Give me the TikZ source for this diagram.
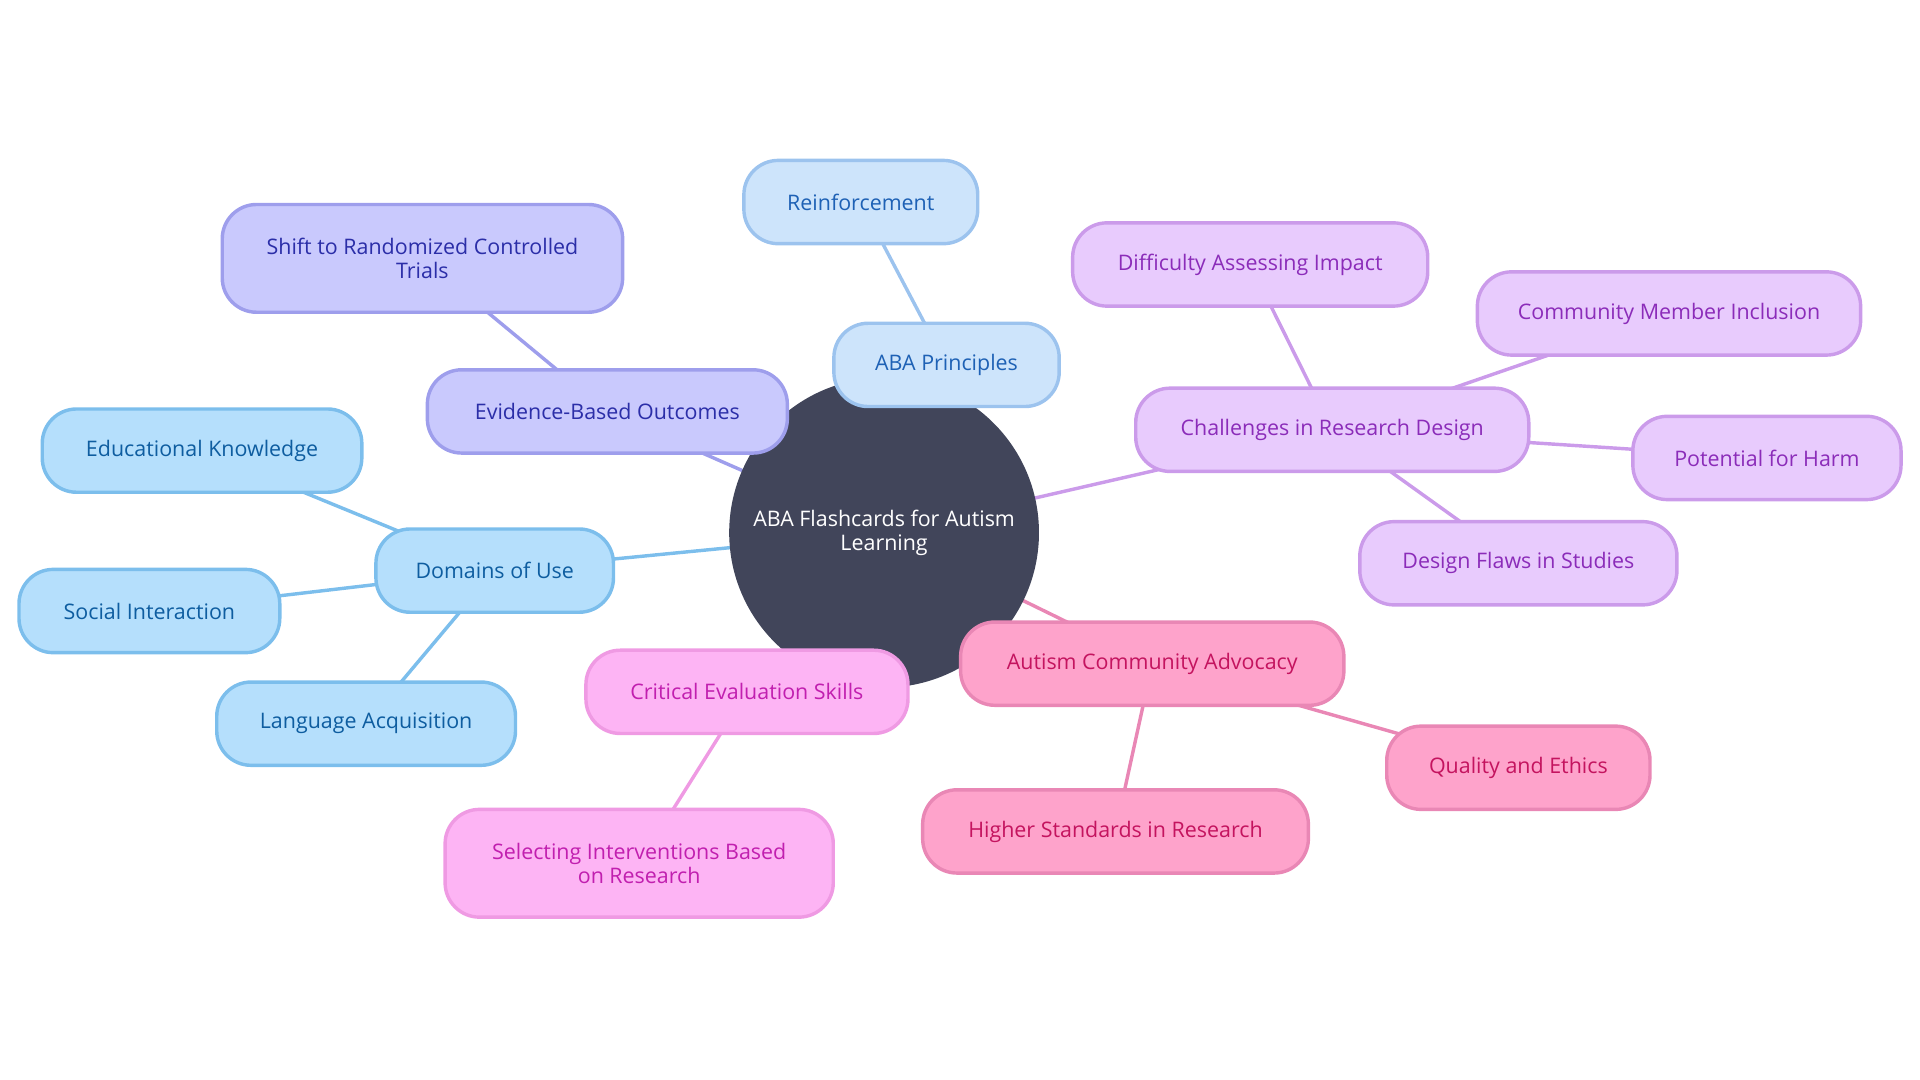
\documentclass[tikz,border=0pt]{standalone}
\usepackage{fontspec}
\setmainfont{Open Sans}
\usetikzlibrary{backgrounds}
\definecolor{cfill}{HTML}{41455A}
\definecolor{skyF}{HTML}{B5DFFC}\definecolor{skyD}{HTML}{7CBEEC}\definecolor{skyT}{HTML}{0E5DA0}
\definecolor{paleF}{HTML}{CDE4FB}\definecolor{paleD}{HTML}{9CC3EE}\definecolor{paleT}{HTML}{1E61B5}
\definecolor{indF}{HTML}{C9C9FD}\definecolor{indD}{HTML}{9E9EEC}\definecolor{indT}{HTML}{2B2EA8}
\definecolor{purF}{HTML}{E8CBFD}\definecolor{purD}{HTML}{CB9BEA}\definecolor{purT}{HTML}{8B2CB9}
\definecolor{pnkF}{HTML}{FDB4F4}\definecolor{pnkD}{HTML}{EF9AE3}\definecolor{pnkT}{HTML}{C11FAF}
\definecolor{rosF}{HTML}{FEA3CB}\definecolor{rosD}{HTML}{E987B5}\definecolor{rosT}{HTML}{C4145F}
\begin{document}
\begin{tikzpicture}[x=1pt,y=-1pt,
  box/.style={rectangle, rounded corners=28pt, line width=2.8pt, align=center, inner sep=0pt,
    minimum height=68pt, font=\fontsize{17.5}{20}\selectfont},
  sky/.style={box, fill=skyF, draw=skyD, text=skyT},
  pale/.style={box, fill=paleF, draw=paleD, text=paleT},
  ind/.style={box, fill=indF, draw=indD, text=indT},
  pur/.style={box, fill=purF, draw=purD, text=purT},
  pnk/.style={box, fill=pnkF, draw=pnkD, text=pnkT},
  ros/.style={box, fill=rosF, draw=rosD, text=rosT},
  link/.style={line width=2.8pt}
]
\useasboundingbox (0,0) rectangle (1568,882);
\node[circle, fill=cfill, minimum size=253pt, inner sep=0pt, text=white, align=center,
  font=\fontsize{17.5}{20}\selectfont] (c) at (722,435) {ABA Flashcards for Autism\\Learning};

\node[pale, minimum width=191pt] (reinf) at (703,165) {Reinforcement};
\node[pale, minimum width=184pt] (aba) at (773,298) {ABA Principles};
\node[ind, minimum width=327pt, minimum height=88pt] (shift) at (345,211) {Shift to Randomized Controlled\\Trials};
\node[ind, minimum width=294pt] (evid) at (496,336) {Evidence-Based Outcomes};
\node[sky, minimum width=261pt] (edu) at (165,368) {Educational Knowledge};
\node[sky, minimum width=194pt] (dom) at (404,466) {Domains of Use};
\node[sky, minimum width=213pt] (soc) at (122,499) {Social Interaction};
\node[sky, minimum width=244pt] (lang) at (299,591) {Language Acquisition};
\node[pnk, minimum width=263pt] (crit) at (610,565) {Critical Evaluation Skills};
\node[pnk, minimum width=317pt, minimum height=88pt] (sel) at (522,705) {Selecting Interventions Based\\on Research};
\node[ros, minimum width=313pt] (adv) at (941,542) {Autism Community Advocacy};
\node[ros, minimum width=315pt] (high) at (911,679) {Higher Standards in Research};
\node[ros, minimum width=215pt] (qual) at (1240,627) {Quality and Ethics};
\node[pur, minimum width=321pt] (chal) at (1088,351) {Challenges in Research Design};
\node[pur, minimum width=290pt] (diff) at (1021,216) {Difficulty Assessing Impact};
\node[pur, minimum width=313pt] (comm) at (1363,256) {Community Member Inclusion};
\node[pur, minimum width=219pt] (harm) at (1443,374) {Potential for Harm};
\node[pur, minimum width=259pt] (flaw) at (1240,460) {Design Flaws in Studies};

\begin{pgfonlayer}{background}
\draw[link, draw=indD] (c.center) -- (evid.center);
\draw[link, draw=indD] (evid.center) -- (shift.center);
\draw[link, draw=paleD] (c.center) -- (aba.center);
\draw[link, draw=paleD] (aba.center) -- (reinf.center);
\draw[link, draw=skyD] (c.center) -- (dom.center);
\draw[link, draw=skyD] (dom.center) -- (edu.center);
\draw[link, draw=skyD] (dom.center) -- (soc.center);
\draw[link, draw=skyD] (dom.center) -- (lang.center);
\draw[link, draw=pnkD] (c.center) -- (crit.center);
\draw[link, draw=pnkD] (crit.center) -- (sel.center);
\draw[link, draw=rosD] (c.center) -- (adv.center);
\draw[link, draw=rosD] (adv.center) -- (high.center);
\draw[link, draw=rosD] (adv.center) -- (qual.center);
\draw[link, draw=purD] (c.center) -- (chal.center);
\draw[link, draw=purD] (chal.center) -- (diff.center);
\draw[link, draw=purD] (chal.center) -- (comm.center);
\draw[link, draw=purD] (chal.center) -- (harm.center);
\draw[link, draw=purD] (chal.center) -- (flaw.center);
\end{pgfonlayer}
\end{tikzpicture}
\end{document}
